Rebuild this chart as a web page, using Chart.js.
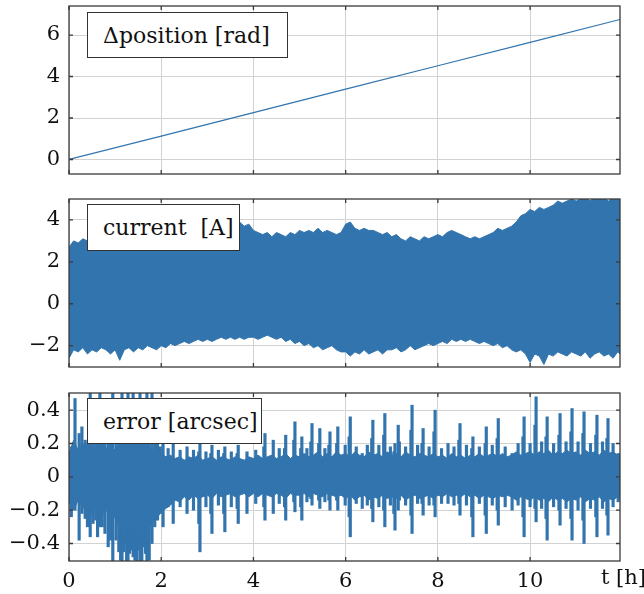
<!DOCTYPE html>
<html>
<head>
<meta charset="utf-8">
<script src="https://cdn.jsdelivr.net/npm/chart.js@4.4.0/dist/chart.umd.min.js"></script>
<style>
  html, body { margin: 0; padding: 0; background: #fff; }
  body { width: 644px; height: 594px; position: relative; overflow: hidden; font-family: "DejaVu Serif", serif; }
  .panel { position: absolute; left: 0; width: 644px; }
  .tag { position: absolute; left: 87px; background: #fff; border: 1.5px solid #333; box-sizing: border-box;
         font-size: 22px; color: #111; display: flex; align-items: center; padding-left: 15px; white-space: pre; }
  #tlabel { position: absolute; left: 601px; top: 565px; font-size: 21px; color: #111; white-space: pre; }
</style>
</head>
<body>
<div class="panel" style="top:0px;height:180px"><canvas id="posChart" width="644" height="180"></canvas></div>
<div class="panel" style="top:193px;height:180px"><canvas id="curChart" width="644" height="180"></canvas></div>
<div class="panel" style="top:387px;height:207px"><canvas id="errChart" width="644" height="207"></canvas></div>
<div class="tag" style="top:12px;width:201px;height:46px">Δposition [rad]</div>
<div class="tag" style="top:204px;width:153px;height:47px">current  [A]</div>
<div class="tag" style="top:398px;width:175px;height:46px">error [arcsec]</div>
<div id="tlabel">t [h]</div>
<script>
  // time axis [h]
  const tMin = 0;
  const tMax = 11.95;

  // position: straight ramp
  const posT = [0, 2, 4, 6, 8, 10, 11.95];
  const posVal = [0, 1.13, 2.26, 3.39, 4.52, 5.65, 6.75];

  // current: envelope of the dense signal, one value every 0.1 h
  const curStep = 0.1;
  const curHi = [
    2.7, 3.0, 2.9, 3.1, 3.0, 3.2, 3.1, 3.3, 3.2, 3.3,
    3.4, 3.3, 3.5, 3.4, 3.5, 3.6, 3.5, 3.6, 3.7, 3.6,
    3.7, 3.6, 3.8, 3.7, 3.8, 3.7, 3.9, 3.8, 3.8, 3.9,
    3.8, 3.9, 3.8, 3.9, 3.8, 3.9, 3.8, 3.9, 3.7, 3.8,
    3.5, 3.4, 3.3, 3.4, 3.2, 3.4, 3.3, 3.2, 3.4, 3.3,
    3.5, 3.4, 3.5, 3.4, 3.6, 3.4, 3.5, 3.4, 3.3, 3.4,
    3.8, 3.9, 3.6, 3.5, 3.6, 3.5, 3.5, 3.4, 3.3, 3.4,
    3.2, 3.3, 3.1, 3.0, 3.2, 3.1, 3.0, 3.2, 3.1, 3.2,
    3.3, 3.2, 3.4, 3.5, 3.4, 3.3, 3.2, 3.1, 3.2, 3.1,
    3.2, 3.3, 3.4, 3.6, 3.5, 3.6, 3.7, 3.9, 4.2, 4.3,
    4.5, 4.4, 4.6, 4.5, 4.6, 4.7, 4.9, 4.8, 4.9, 5.0,
    4.9, 5.0, 5.1, 4.9, 5.1, 5.0, 5.1, 4.9, 5.1, 5.0,
    5.1
  ];
  const curLo = [
    -2.6, -2.2, -2.3, -2.1, -2.4, -2.2, -2.3, -2.1, -2.2, -2.4,
    -2.2, -2.7, -2.2, -2.1, -2.3, -2.1, -2.2, -2.0, -2.1, -2.2,
    -2.0, -2.1, -1.9, -2.0, -1.9, -1.8, -1.9, -1.8, -1.7, -1.8,
    -1.7, -1.8, -1.7, -1.6, -1.7, -1.6, -1.7, -1.6, -1.7, -1.6,
    -1.6, -1.7, -1.6, -1.5, -1.6, -1.7, -1.6, -1.8, -1.7, -1.9,
    -1.8, -2.0, -1.9, -2.1, -2.0, -2.2, -2.1, -2.0, -2.2, -2.3,
    -2.3, -2.5, -2.3, -2.4, -2.2, -2.4, -2.3, -2.2, -2.4, -2.2,
    -2.2, -2.1, -2.3, -2.2, -2.0, -2.2, -2.1, -2.0, -1.9, -2.0,
    -1.9, -1.8, -1.9, -1.7, -1.8, -1.7, -1.8, -1.7, -1.8, -1.9,
    -1.8, -1.9, -2.0, -1.9, -2.1, -2.0, -2.2, -2.3, -2.2, -2.4,
    -2.8, -2.4, -2.5, -2.9, -2.4, -2.5, -2.3, -2.4, -2.5, -2.3,
    -2.4, -2.5, -2.3, -2.6, -2.4, -2.3, -2.5, -2.4, -2.6, -2.3,
    -2.5
  ];

  // error: dense core band (every 0.1 h) plus the spikes that stick out of it
  const errStep = 0.1;
  const errCoreHi = [
    0.14, 0.22, 0.16, 0.20, 0.15, 0.19, 0.16, 0.21, 0.17, 0.19,
    0.16, 0.20, 0.15, 0.19, 0.17, 0.20, 0.15, 0.18, 0.16, 0.15,
    0.14, 0.12, 0.13, 0.11, 0.12, 0.10, 0.12, 0.11, 0.13, 0.10,
    0.11, 0.12, 0.10, 0.12, 0.11, 0.10, 0.12, 0.11, 0.10, 0.12,
    0.11, 0.13, 0.11, 0.12, 0.13, 0.11, 0.12, 0.14, 0.11, 0.13,
    0.12, 0.14, 0.12, 0.13, 0.15, 0.12, 0.14, 0.12, 0.15, 0.13,
    0.14, 0.12, 0.15, 0.13, 0.12, 0.15, 0.13, 0.14, 0.12, 0.15,
    0.13, 0.14, 0.12, 0.15, 0.13, 0.12, 0.14, 0.13, 0.12, 0.14,
    0.12, 0.13, 0.11, 0.14, 0.12, 0.13, 0.11, 0.13, 0.12, 0.14,
    0.12, 0.13, 0.14, 0.12, 0.14, 0.12, 0.13, 0.15, 0.13, 0.14,
    0.15, 0.13, 0.15, 0.14, 0.16, 0.13, 0.15, 0.14, 0.16, 0.14,
    0.15, 0.13, 0.16, 0.14, 0.15, 0.13, 0.16, 0.14, 0.15, 0.13,
    0.14
  ];
  const errCoreLo = [
    -0.15, -0.20, -0.14, -0.19, -0.16, -0.22, -0.17, -0.24, -0.19, -0.26,
    -0.24, -0.32, -0.27, -0.35, -0.30, -0.36, -0.29, -0.33, -0.27, -0.25,
    -0.21, -0.19, -0.17, -0.14, -0.15, -0.12, -0.14, -0.11, -0.13, -0.12,
    -0.11, -0.13, -0.10, -0.12, -0.11, -0.10, -0.12, -0.11, -0.10, -0.12,
    -0.10, -0.12, -0.10, -0.11, -0.12, -0.10, -0.11, -0.13, -0.10, -0.11,
    -0.11, -0.10, -0.12, -0.10, -0.11, -0.12, -0.10, -0.11, -0.12, -0.11,
    -0.13, -0.11, -0.14, -0.12, -0.11, -0.14, -0.12, -0.13, -0.11, -0.13,
    -0.12, -0.13, -0.11, -0.14, -0.12, -0.11, -0.13, -0.12, -0.11, -0.13,
    -0.11, -0.12, -0.10, -0.12, -0.11, -0.12, -0.10, -0.12, -0.11, -0.13,
    -0.11, -0.12, -0.13, -0.11, -0.12, -0.11, -0.12, -0.14, -0.12, -0.13,
    -0.14, -0.12, -0.14, -0.13, -0.15, -0.12, -0.14, -0.13, -0.15, -0.13,
    -0.14, -0.12, -0.15, -0.13, -0.14, -0.12, -0.15, -0.13, -0.14, -0.12,
    -0.13
  ];
  const spikeT = [
    0.05, 0.13, 0.22, 0.28, 0.35, 0.40, 0.46, 0.52, 0.58, 0.62, 0.67, 0.72, 0.78, 0.85, 0.90, 0.95,
    1.02, 1.08, 1.12, 1.15, 1.18, 1.22, 1.25, 1.28, 1.31, 1.34, 1.39, 1.43, 1.47, 1.51, 1.54, 1.58,
    1.62, 1.66, 1.69, 1.74, 1.80, 1.86, 1.92, 1.98,
    2.04, 2.15, 2.26, 2.41, 2.56, 2.70, 2.84, 2.97, 3.10, 3.24,
    3.38, 3.52, 3.67, 3.86, 4.05, 4.25, 4.43, 4.56, 4.70, 4.90, 5.05, 5.16, 5.27, 5.44, 5.55, 5.66,
    5.83, 5.99, 6.10, 6.23, 6.36, 6.47, 6.59, 6.72, 6.85, 6.97, 7.07, 7.14, 7.30, 7.44, 7.56, 7.68,
    7.81, 7.94, 8.08, 8.22, 8.35, 8.48, 8.62, 8.76, 8.90, 9.05, 9.18, 9.31, 9.46, 9.61, 9.74, 9.87,
    10.00, 10.13, 10.25, 10.37, 10.51, 10.65, 10.78, 10.91, 11.04, 11.17, 11.31, 11.45, 11.57, 11.69, 11.80, 11.91
  ];
  const spikeHi = [
    0.18, 0.47, 0.26, 0.30, 0.22, 0.20, 0.52, 0.25, 0.24, 0.22, 0.52, 0.24, 0.26, 0.30, 0.25, 0.52,
    0.28, 0.35, 0.30, 0.52, 0.28, 0.30, 0.26, 0.52, 0.30, 0.32, 0.52, 0.25, 0.30, 0.28, 0.52, 0.26,
    0.28, 0.24, 0.52, 0.22, 0.52, 0.20, 0.22, 0.18,
    0.22, 0.17, 0.20, 0.16, 0.18, 0.16, 0.20, 0.15, 0.19, 0.16,
    0.18, 0.15, 0.19, 0.15, 0.16, 0.26, 0.22, 0.17, 0.25, 0.33, 0.24, 0.17, 0.32, 0.29, 0.17, 0.27,
    0.30, 0.19, 0.36, 0.18, 0.14, 0.19, 0.34, 0.19, 0.38, 0.18, 0.20, 0.31, 0.18, 0.43, 0.19, 0.29,
    0.18, 0.40, 0.17, 0.20, 0.18, 0.32, 0.19, 0.24, 0.18, 0.30, 0.19, 0.35, 0.18, 0.14, 0.20, 0.36,
    0.20, 0.48, 0.21, 0.36, 0.20, 0.38, 0.21, 0.41, 0.21, 0.39, 0.20, 0.37, 0.21, 0.35, 0.20, 0.14
  ];
  const spikeLo = [
    -0.24, -0.20, -0.38, -0.22, -0.25, -0.30, -0.36, -0.28, -0.26, -0.36, -0.30, -0.30, -0.34, -0.42, -0.38, -0.52,
    -0.38, -0.45, -0.50, -0.52, -0.45, -0.40, -0.52, -0.52, -0.46, -0.44, -0.48, -0.50, -0.52, -0.44, -0.52, -0.52,
    -0.42, -0.46, -0.52, -0.50, -0.40, -0.30, -0.26, -0.22,
    -0.30, -0.18, -0.28, -0.18, -0.22, -0.20, -0.45, -0.18, -0.34, -0.17,
    -0.33, -0.18, -0.28, -0.22, -0.16, -0.26, -0.22, -0.16, -0.26, -0.21, -0.26, -0.15, -0.17, -0.19, -0.15, -0.20,
    -0.20, -0.17, -0.36, -0.16, -0.19, -0.17, -0.27, -0.18, -0.30, -0.17, -0.32, -0.20, -0.17, -0.34, -0.16, -0.23,
    -0.17, -0.24, -0.16, -0.16, -0.17, -0.23, -0.17, -0.36, -0.16, -0.34, -0.17, -0.29, -0.18, -0.20, -0.17, -0.36,
    -0.18, -0.27, -0.19, -0.38, -0.18, -0.29, -0.19, -0.38, -0.20, -0.40, -0.19, -0.36, -0.19, -0.35, -0.18, -0.15
  ];
  // lower side lines of each burst, just before the main spike
  const shoulderT = [
    2.81, 3.07, 3.35, 3.64, 4.22, 4.67, 4.87, 5.02, 5.24, 5.41, 5.63, 5.80, 6.07, 6.56, 6.82, 7.04,
    7.17, 7.41, 7.65, 7.91, 8.45, 8.73, 9.02, 9.28, 9.84, 10.10, 10.34, 10.62, 10.88, 11.14, 11.42, 11.66
  ];
  const shoulderHi = [
    0.15, 0.14, 0.14, 0.14, 0.18, 0.17, 0.22, 0.17, 0.21, 0.20, 0.19, 0.20, 0.24, 0.23, 0.25, 0.15,
    0.21, 0.28, 0.20, 0.27, 0.22, 0.17, 0.20, 0.23, 0.24, 0.31, 0.24, 0.25, 0.27, 0.26, 0.25, 0.23
  ];
  const shoulderLo = [
    -0.28, -0.22, -0.22, -0.19, -0.18, -0.18, -0.15, -0.18, -0.13, -0.14, -0.14, -0.14, -0.24, -0.19, -0.20, -0.22,
    -0.14, -0.23, -0.16, -0.17, -0.16, -0.24, -0.23, -0.20, -0.24, -0.19, -0.25, -0.20, -0.25, -0.26, -0.24, -0.23
  ];

  const blue = '#3274ad';
  const gridColor = '#d2d2d2';
  const textColor = '#111';
  const tickFont = { family: '"DejaVu Serif", serif', size: 21 };

  const fmt = v => {
    const r = Math.round(v * 10) / 10;
    return r < 0 ? '\u2212' + Math.abs(r) : String(r);
  };

  // closed box round the plot area with short inward ticks, like pgfplots
  const framePlugin = {
    id: 'frame',
    afterDraw(chart) {
      const { ctx, chartArea: a, scales } = chart;
      ctx.save();
      ctx.strokeStyle = '#3a3a3a';
      ctx.lineWidth = 1.3;
      ctx.beginPath();
      scales.x.ticks.forEach(t => {
        const px = scales.x.getPixelForValue(t.value);
        ctx.moveTo(px, a.top); ctx.lineTo(px, a.top + 4);
        ctx.moveTo(px, a.bottom); ctx.lineTo(px, a.bottom - 4);
      });
      scales.y.ticks.forEach(t => {
        const py = scales.y.getPixelForValue(t.value);
        ctx.moveTo(a.left, py); ctx.lineTo(a.left + 4, py);
        ctx.moveTo(a.right, py); ctx.lineTo(a.right - 4, py);
      });
      ctx.stroke();
      ctx.strokeRect(a.left, a.top, a.right - a.left, a.bottom - a.top);
      ctx.restore();
    }
  };

  function panelOptions(yMin, yMax, yStep, showX) {
    return {
      responsive: false,
      animation: false,
      events: [],
      layout: { padding: { top: 6, right: 24, bottom: showX ? 0 : 6, left: 0 } },
      plugins: { legend: { display: false }, tooltip: { enabled: false } },
      elements: { point: { radius: 0 }, line: { tension: 0 } },
      scales: {
        x: {
          type: 'linear', min: tMin, max: tMax, offset: false,
          grid: { color: gridColor, drawTicks: false, offset: false },
          border: { display: false },
          ticks: { display: showX, stepSize: 2, includeBounds: false, padding: 8, maxRotation: 0,
                   color: textColor, font: tickFont, callback: fmt },
          afterFit: s => { s.height = showX ? 33 : 0; s.paddingLeft = 0; s.paddingRight = 0; }
        },
        y: {
          type: 'linear', min: yMin, max: yMax,
          grid: { color: gridColor, drawTicks: false },
          border: { display: false },
          ticks: { stepSize: yStep, includeBounds: false, padding: 9,
                   color: textColor, font: tickFont, callback: fmt },
          afterFit: s => { s.width = 69; s.paddingTop = 0; s.paddingBottom = 0; }
        }
      }
    };
  }

  new Chart(document.getElementById('posChart'), {
    type: 'line',
    data: {
      datasets: [{
        data: posT.map((t, i) => ({ x: t, y: posVal[i] })),
        borderColor: blue,
        borderWidth: 1.2,
        fill: false
      }]
    },
    options: panelOptions(-0.7, 7.4, 2, false),
    plugins: [framePlugin]
  });

  const curT = curHi.map((_, i) => i * curStep);
  new Chart(document.getElementById('curChart'), {
    type: 'line',
    data: {
      datasets: [
        { data: curT.map((t, i) => ({ x: t, y: curLo[i] })), borderColor: blue, borderWidth: 1, fill: false },
        { data: curT.map((t, i) => ({ x: t, y: curHi[i] })), borderColor: blue, borderWidth: 1,
          backgroundColor: blue, fill: '-1' }
      ]
    },
    options: panelOptions(-3.02, 5.0, 2, false),
    plugins: [framePlugin]
  });

  const errT = errCoreHi.map((_, i) => i * errStep);
  new Chart(document.getElementById('errChart'), {
    type: 'line',
    data: {
      datasets: [
        { data: errT.map((t, i) => ({ x: t, y: errCoreLo[i] })), borderColor: blue, borderWidth: 1, fill: false },
        { data: errT.map((t, i) => ({ x: t, y: errCoreHi[i] })), borderColor: blue, borderWidth: 1,
          backgroundColor: blue, fill: '-1' },
        { type: 'bar', data: spikeT.map((t, i) => ({ x: t, y: [spikeLo[i], spikeHi[i]] })),
          backgroundColor: blue, borderWidth: 0, barThickness: 2.5, grouped: false },
        { type: 'bar', data: shoulderT.map((t, i) => ({ x: t, y: [shoulderLo[i], shoulderHi[i]] })),
          backgroundColor: blue, borderWidth: 0, barThickness: 2, grouped: false }
      ]
    },
    options: panelOptions(-0.505, 0.503, 0.2, true),
    plugins: [framePlugin]
  });
</script>
</body>
</html>
